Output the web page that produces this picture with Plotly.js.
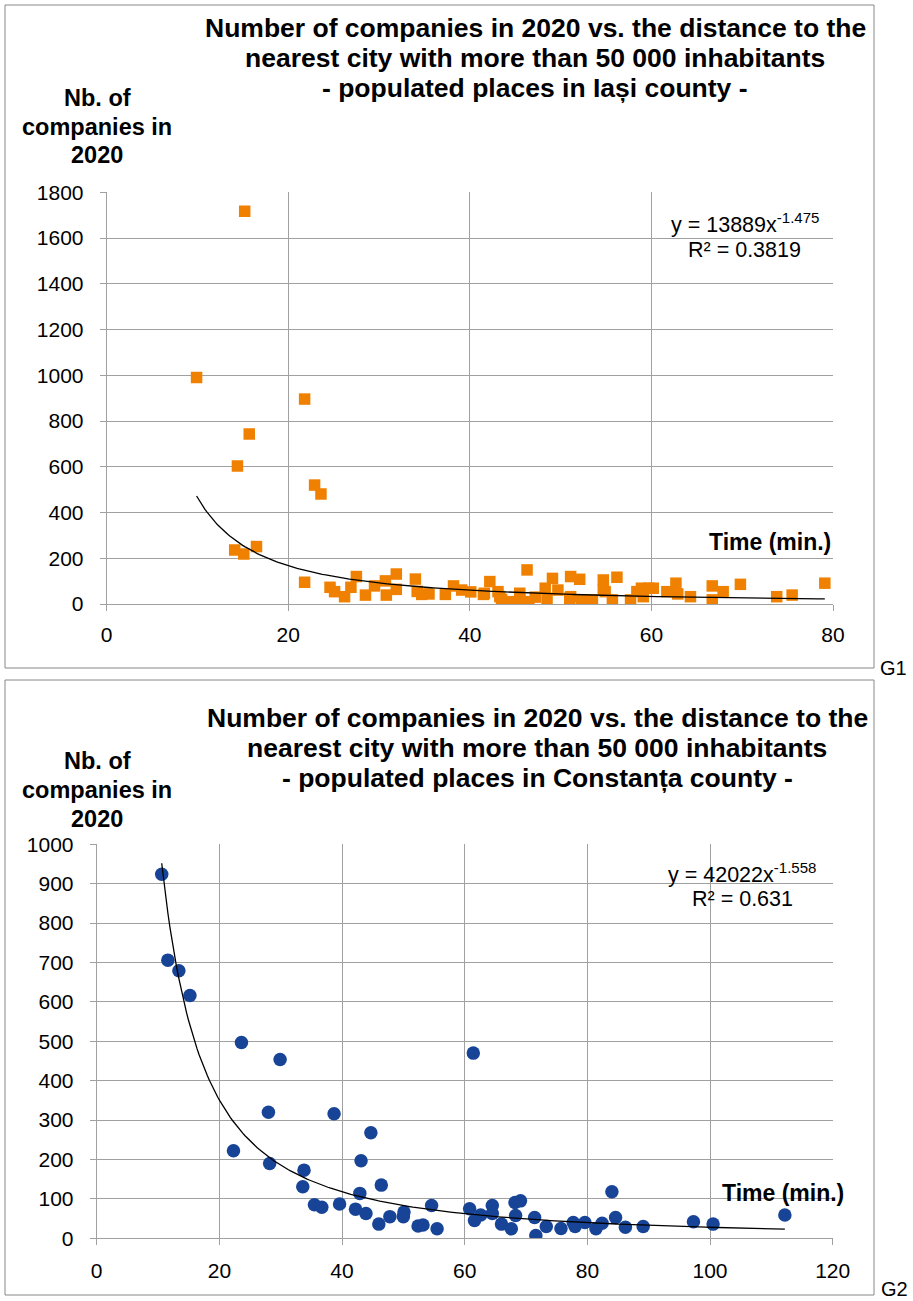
<!DOCTYPE html>
<html>
<head>
<meta charset="utf-8">
<script src="https://cdn.plot.ly/plotly-3.0.1.min.js"></script>
<style>
html,body{margin:0;padding:0;background:#fff;}
#chart{width:913px;height:1301px;}
</style>
</head>
<body>
<div id="chart"></div>
<script>
// ---------- DATA ----------
// G1 – Iași county: travel time (min.) vs number of companies in 2020
const iasiTime = [9.9, 15.2, 21.8, 15.7, 14.4, 22.9, 23.6, 14.1, 15.1, 16.5,
  21.8, 24.6, 25.1, 26.2, 26.9, 27.5, 28.5, 29.5, 30.7, 30.8,
  31.9, 31.9, 34.0, 34.7, 34.2, 37.3, 38.2, 39.1, 40.1, 41.5,
  42.2, 43.1, 43.5, 44.3, 45.5, 46.3, 46.5, 48.3, 48.5, 49.1,
  49.7, 51.1, 51.1, 52.1, 52.3, 53.5, 54.7, 54.9, 55.7, 56.2,
  57.7, 58.9, 59.7, 59.1, 61.7, 62.7, 62.9, 64.3, 66.7, 66.7,
  67.9, 69.8, 73.8, 75.5, 79.1, 41.6, 43.3, 45.5, 51.0, 54.7,
  60.2, 58.4, 35.5, 47.2];
const iasiCompanies = [990, 1717, 896, 743, 603, 520, 481, 236, 219, 251,
  95, 73, 54, 32, 73, 120, 39, 79, 101, 39,
  131, 64, 109, 42, 55, 42, 79, 61, 53, 42,
  98, 54, 20, 10, 18, 149, 10, 69, 25, 112,
  61, 120, 32, 108, 18, 18, 105, 54, 18, 117,
  18, 69, 69, 32, 54, 91, 44, 32, 79, 18,
  54, 86, 32, 39, 91, 47, 32, 47, 25, 61,
  69, 54, 44, 30];

// G2 – Constanța county
const constantaTime = [10.6, 11.6, 13.4, 15.2, 22.3, 23.6, 28.0, 28.2, 29.9, 33.6,
  33.8, 35.5, 36.7, 38.7, 39.6, 42.2, 42.9, 43.1, 43.9, 44.7,
  46.0, 46.4, 47.8, 50.0, 50.1, 52.4, 53.2, 54.6, 55.5, 60.8,
  61.4, 61.6, 62.6, 64.5, 64.5, 66.0, 67.6, 68.2, 68.3, 69.1,
  71.4, 71.6, 73.3, 75.7, 77.7, 78.0, 79.6, 81.4, 82.4, 84.0,
  84.6, 86.2, 89.1, 97.3, 100.5, 112.2];
const constantaCompanies = [924, 706, 679, 616, 222, 497, 320, 190, 454, 131,
  173, 85, 79, 316, 87, 74, 114, 197, 63, 268,
  36, 135, 55, 55, 67, 31, 34, 83, 24, 75,
  470, 45, 59, 83, 63, 36, 24, 91, 58, 95,
  53, 7, 30, 25, 40, 30, 40, 24, 38, 118,
  53, 28, 30, 42, 36, 59];

// Trend-line labels as printed on the charts
const iasiLabel = {a: '13889', b: '-1.475', r2: '0.3819'};
const constantaLabel = {a: '42022', b: '-1.558', r2: '0.631'};
// Power curves y = a·x^b as drawn in the picture (G1 matches its label; G2)
const iasiCurve = {a: 13889, b: -1.475};
const constantaCurve = {a: 38940, b: -1.572};

// Tick settings
const iasiXTicks = [0, 20, 40, 60, 80];
const iasiYTicks = [0, 200, 400, 600, 800, 1000, 1200, 1400, 1600, 1800];
const constantaXTicks = [0, 20, 40, 60, 80, 100, 120];
const constantaYTicks = [0, 100, 200, 300, 400, 500, 600, 700, 800, 900, 1000];

// Texts
const titleLinesIasi = ['Number of companies in 2020 vs. the distance to the',
  'nearest city with more than 50 000 inhabitants',
  '- populated places in Iași county -'];
const titleLinesConstanta = ['Number of companies in 2020 vs. the distance to the',
  'nearest city with more than 50 000 inhabitants',
  '- populated places in Constanța county -'];
const yTitleLines = ['Nb. of', 'companies in', '2020'];
const xTitle = 'Time (min.)';

// ---------- HELPERS ----------
const W = 913, H = 1301;
const px = x => x / W;
const py = y => 1 - y / H;
const FONT = 'Liberation Sans, Arial, Helvetica, sans-serif';

function trendCurve(xs, t, n) {
  const lo = Math.min(...xs), hi = Math.max(...xs);
  const X = [], Y = [];
  for (let i = 0; i <= n; i++) {
    const x = lo + (hi - lo) * i / n;
    X.push(x); Y.push(t.a * Math.pow(x, t.b));
  }
  return {X, Y};
}
const tr1 = trendCurve(iasiTime, iasiCurve, 300);
const tr2 = trendCurve(constantaTime, constantaCurve, 300);

const traces = [
  {x: iasiTime, y: iasiCompanies, type: 'scatter', mode: 'markers', xaxis: 'x', yaxis: 'y',
   marker: {symbol: 'square', size: 11.5, color: '#F08000'}, hoverinfo: 'skip'},
  {x: tr1.X, y: tr1.Y, type: 'scatter', mode: 'lines', xaxis: 'x', yaxis: 'y',
   line: {color: '#000', width: 1.3}, hoverinfo: 'skip'},
  {x: constantaTime, y: constantaCompanies, type: 'scatter', mode: 'markers', xaxis: 'x2', yaxis: 'y2',
   marker: {symbol: 'circle', size: 13.5, color: '#184497'}, hoverinfo: 'skip'},
  {x: tr2.X, y: tr2.Y, type: 'scatter', mode: 'lines', xaxis: 'x2', yaxis: 'y2',
   line: {color: '#000', width: 1.3}, hoverinfo: 'skip'}
];

const gridC = '#A0A0A0';
function axis(extra) {
  return Object.assign({
    showgrid: true, gridcolor: gridC, gridwidth: 1,
    zeroline: false, showline: true, linecolor: gridC, linewidth: 1,
    ticks: 'outside', ticklen: 6, tickcolor: gridC, tickwidth: 1,
    tickfont: {family: FONT, size: 21, color: '#000'},
    tickmode: 'array', automargin: false, fixedrange: true
  }, extra);
}

const ann = [];
function addText(text, x, y, size, bold, anchor) {
  ann.push({text: bold ? '<b>' + text + '</b>' : text, xref: 'paper', yref: 'paper',
    x: px(x), y: py(y), xanchor: anchor || 'center', yanchor: 'middle', showarrow: false,
    font: {family: FONT, size: size, color: '#000'}});
}
// G1 texts
titleLinesIasi.forEach((t, i) => addText(t, 535, 28 + i * 30, 26.5, true));
yTitleLines.forEach((t, i) => addText(t, 97, 98 + i * 28.5, 23.5, true));
addText(xTitle, 770, 542, 23, true);
addText('y = ' + iasiLabel.a + 'x<sup>' + iasiLabel.b + '</sup>', 745, 223, 21.5, false);
addText('R² = ' + iasiLabel.r2, 744, 250, 21.5, false);
addText('G1', 878, 668, 20, false, 'left');
// G2 texts
titleLinesConstanta.forEach((t, i) => addText(t, 537, 718 + i * 30, 26.5, true));
yTitleLines.forEach((t, i) => addText(t, 97, 761 + i * 29, 23.5, true));
addText(xTitle, 783, 1193, 23, true);
addText('y = ' + constantaLabel.a + 'x<sup>' + constantaLabel.b + '</sup>', 742, 873, 21.5, false);
addText('R² = ' + constantaLabel.r2, 742, 899, 21.5, false);
addText('G2', 879, 1289, 20, false, 'left');

const layout = {
  width: W, height: H,
  margin: {l: 0, r: 0, t: 0, b: 0},
  paper_bgcolor: '#fff', plot_bgcolor: '#fff',
  showlegend: false,
  font: {family: FONT, color: '#000'},
  xaxis: axis({domain: [px(106.7), px(833)], range: [0, 80], tickvals: iasiXTicks, anchor: 'y', ticklabelstandoff: 6}),
  yaxis: axis({domain: [py(604), py(192.3)], range: [0, 1800], tickvals: iasiYTicks, anchor: 'x', ticklabelstandoff: 12}),
  xaxis2: axis({domain: [px(96.7), px(832.7)], range: [0, 120], tickvals: constantaXTicks, anchor: 'y2', ticklabelstandoff: 7}),
  yaxis2: axis({domain: [py(1238.3), py(844.3)], range: [0, 1000], tickvals: constantaYTicks, anchor: 'x2', ticklabelstandoff: 12}),
  shapes: [
    {type: 'rect', xref: 'paper', yref: 'paper', x0: px(5), x1: px(874), y0: py(668), y1: py(5),
     line: {color: '#888', width: 1}},
    {type: 'rect', xref: 'paper', yref: 'paper', x0: px(5), x1: px(874), y0: py(1295), y1: py(680),
     line: {color: '#888', width: 1}}
  ],
  annotations: ann
};

Plotly.newPlot('chart', traces, layout, {staticPlot: true, displayModeBar: false});
</script>
</body>
</html>
